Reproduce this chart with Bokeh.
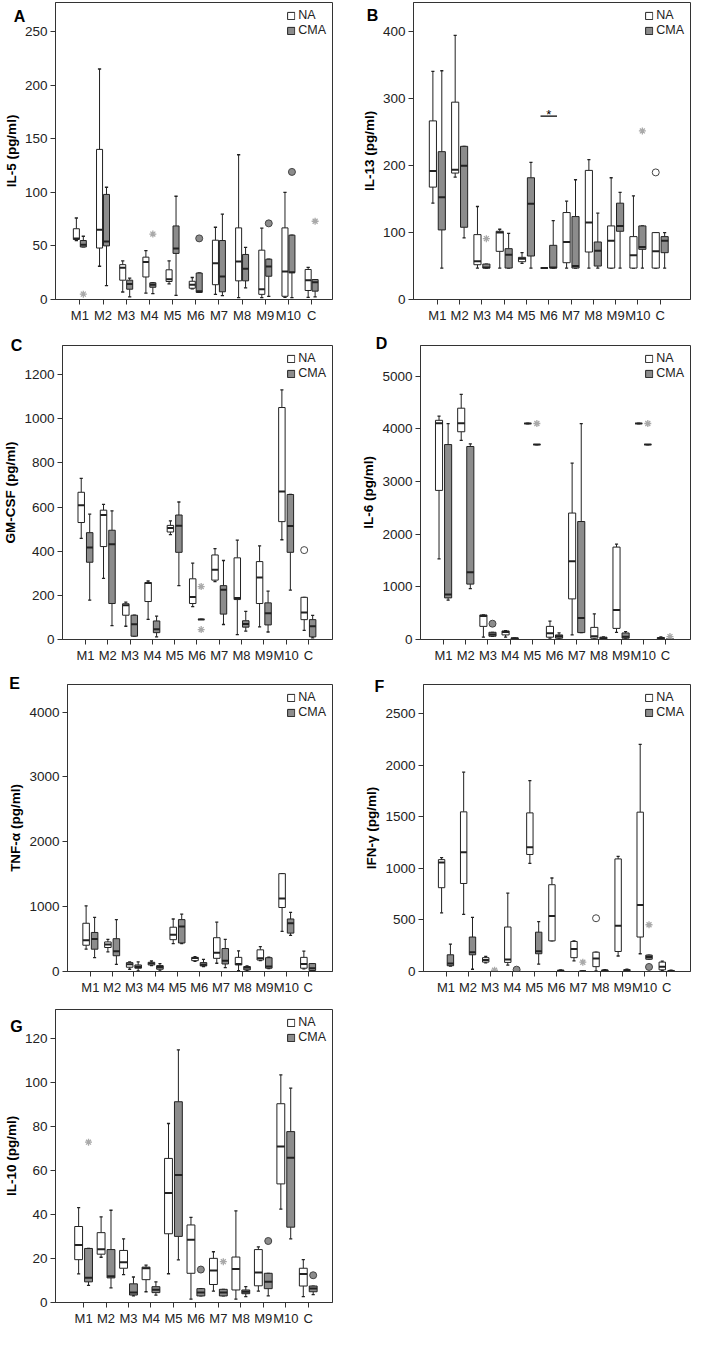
import numpy as np
from bokeh.plotting import figure
from bokeh.models import Range1d, FixedTicker, Label
from bokeh.layouts import column, row
from bokeh.embed import file_html
from bokeh.resources import INLINE

CATS = ["M1", "M2", "M3", "M4", "M5", "M6", "M7", "M8", "M9", "M10", "C"]

# each entry: (lower whisker, Q1, median, Q3, upper whisker), in CATS order
IL5_NA = [(55, 56, 57, 66, 76), (31, 48, 65, 140, 215), (7, 18, 29.5, 32.5, 36),
          (6, 21, 35, 39.5, 45.5), (14.5, 16.8, 19, 27.7, 36), (10, 10.5, 13.8, 17, 20.5),
          (4.8, 13.8, 33.7, 55.3, 67.4), (1.8, 17.4, 35.5, 66.8, 135), (1.8, 4.8, 9.6, 46, 66.5),
          (2, 3, 26, 66.8, 99.9), (2, 8.4, 18, 28, 30)]
IL5_CMA = [(49, 49, 51, 55, 59), (13, 50, 54, 98, 104.7), (2.4, 9.6, 14.4, 18, 20),
           (5.4, 11.4, 13.8, 15.6, 15.6), (3.9, 43, 47.5, 68.6, 96.3), (6.6, 6.6, 7.8, 24.7, 24.7),
           (3.6, 7.2, 21.4, 55, 79.7), (10.8, 17.4, 28.6, 42, 48.7), (3, 21.7, 30.7, 37.6, 37.6),
           (1.8, 25, 25.5, 60, 60), (2.4, 7.8, 16, 18.6, 18.6)]
IL5_OUT = [("M1", "CMA", 5, "star"), ("M4", "CMA", 61, "star"), ("M6", "CMA", 57, "circle"),
           ("M9", "CMA", 71, "circle"), ("M10", "CMA", 119, "circle"), ("C", "CMA", 73, "star")]

IL13_NA = [(144, 168, 192, 267, 341), (183, 189, 194, 295, 395), (47, 52, 57, 97, 139),
           (47, 72, 100, 102, 105), (54, 56.5, 61, 63, 70), (47, 47, 47, 47, 47),
           (47, 55, 86, 130, 147), (47, 71, 115, 193, 209), (47, 47, 88, 110, 182),
           (47, 47, 66, 94, 155), (47, 47, 72, 100, 100)]
IL13_CMA = [(47, 104, 153, 221, 342), (92, 108, 200, 229, 229), (47, 47, 48, 53, 53),
            (47, 47, 67, 76, 99), (47, 65, 143, 182, 205), (47, 47, 48, 81, 118),
            (47, 47, 50, 124, 179), (47, 50, 73, 86, 129), (47, 102, 110, 144, 160),
            (47, 75, 78.6, 110, 110), (47, 70, 88, 94, 100)]
IL13_OUT = [("M3", "CMA", 91, "star"), ("M10", "CMA", 252, "star"), ("C", "NA", 190, "circle")]
IL13_SIG = ("M6", 274)

GMCSF_NA = [(458, 530, 608, 667, 730), (277, 421, 564, 586, 612), (60, 110, 155, 162, 169),
            (91, 172, 256, 258, 265), (475, 487, 505, 517, 537), (149, 163, 193, 275, 346),
            (262, 269, 316, 383, 412), (22, 181, 188, 370, 450), (57, 163, 281, 353, 424),
            (452, 534, 670, 1051, 1131), (41, 90, 122, 191, 191)]
GMCSF_CMA = [(178, 350, 417, 484, 568), (63, 163, 431, 495, 583), (15, 15, 69, 110, 110),
             (12, 31, 46, 84, 106), (244, 395, 515, 564, 623), (91, 91, 91, 91, 91),
             (68, 115, 225, 244, 358), (38, 56, 70, 85, 127), (34, 66, 119, 166, 219),
             (224, 395, 514, 657, 657), (7, 12, 60, 90, 109)]
GMCSF_OUT = [("M6", "CMA", 240, "star"), ("M6", "CMA", 45, "star"), ("C", "NA", 405, "circle")]

IL6_NA = [(1530, 2830, 4105, 4160, 4241), (3781, 3943, 4105, 4390, 4652), (44, 249, 448, 466, 466),
          (44, 87, 143, 162, 168), (4100, 4100, 4100, 4100, 4100), (25, 44, 118, 249, 348),
          (87, 771, 1486, 2400, 3346), (12, 25, 62, 230, 485), (137, 211, 560, 1754, 1810),
          (4100, 4100, 4100, 4100, 4100), (6, 12, 25, 37, 50)]
IL6_CMA = [(746, 790, 852, 3700, 4098), (964, 1051, 1275, 3663, 3713), (62, 62, 93, 137, 137),
           (6, 6, 19, 31, 31), (3700, 3700, 3700, 3700, 3700), (12, 25, 62, 87, 124),
           (131, 131, 410, 2239, 4098), (12, 12, 25, 44, 50), (12, 25, 50, 124, 149),
           (3700, 3700, 3700, 3700, 3700), (5, 5, 5, 5, 5)]
IL6_OUT = [("M3", "CMA", 300, "circle"), ("M5", "CMA", 4100, "star"),
           ("M10", "CMA", 4100, "star"), ("C", "CMA", 55, "star")]

TNF_NA = [(344, 405, 481, 744, 1013), (304, 370, 415, 456, 496), (35, 66, 111, 137, 147),
          (91, 101, 122, 142, 162), (430, 491, 567, 683, 810), (157, 167, 208, 218, 228),
          (127, 203, 289, 521, 760), (15, 101, 116, 218, 319), (167, 177, 203, 334, 385),
          (618, 987, 1124, 1509, 1509), (40, 51, 116, 218, 314)]
TNF_CMA = [(213, 344, 501, 602, 835), (111, 243, 314, 506, 800), (10, 51, 71, 101, 147),
           (10, 35, 71, 91, 122), (430, 440, 694, 800, 886), (76, 86, 106, 137, 187),
           (61, 116, 167, 354, 496), (15, 25, 61, 76, 86), (46, 51, 76, 213, 223),
           (557, 592, 744, 810, 911), (10, 15, 51, 122, 122)]
TNF_OUT = []

IFN_NA = [(569, 812, 1056, 1084, 1103), (553, 853, 1156, 1547, 1931), (84, 91, 112, 134, 147),
          (62, 88, 116, 431, 759), (1047, 1134, 1203, 1537, 1850), (297, 297, 537, 841, 906),
          (103, 134, 219, 291, 297), (6, 47, 125, 187, 187), (150, 194, 444, 1091, 1116),
          (172, 334, 644, 1544, 2200), (9, 16, 47, 91, 100)]
IFN_CMA = [(53, 56, 78, 162, 266), (22, 162, 187, 334, 525), (1, 2, 3, 4, 5),
           (2, 4, 6, 8, 10), (72, 172, 197, 381, 484), (3, 5, 8, 12, 15),
           (1, 2, 3, 3, 4), (3, 5, 8, 15, 18), (5, 7, 10, 18, 22),
           (119, 119, 141, 159, 159), (2, 3, 6, 10, 12)]
IFN_OUT = [("M3", "CMA", 12, "star"), ("M4", "CMA", 18, "circle"), ("M7", "CMA", 90, "star"),
           ("M8", "NA", 516, "circle"), ("M10", "CMA", 44, "circle"), ("M10", "CMA", 453, "star")]

IL10_NA = [(13, 19.5, 26.2, 34.6, 43.2), (20.6, 22, 24.3, 31.8, 39), (12.7, 15.6, 18.3, 23.7, 29),
           (4.9, 10.4, 15.6, 16.1, 17), (13.1, 31.3, 49.9, 65.6, 81.5), (1.5, 13.3, 28.6, 35.3, 38.8),
           (5.2, 8.2, 14.6, 20.1, 23.1), (1.5, 5.7, 15.2, 20.7, 41.7), (5.2, 7.6, 13.7, 24.1, 25.3),
           (42.5, 54, 71, 90.5, 103.6), (2.7, 7.5, 13, 15.6, 19.5)]
IL10_CMA = [(7.8, 9.4, 11.3, 24.6, 24.6), (6.7, 11.2, 11.9, 24.1, 42), (3, 3.4, 4.5, 8.5, 11.6),
            (3.4, 4.5, 5.8, 7.2, 9.4), (19.4, 30.1, 58, 91.4, 115), (3, 3, 4.5, 6.3, 6.3),
            (3, 3, 4.5, 6, 6), (2.7, 4, 4.9, 5.7, 7.2), (3, 6.3, 9.4, 13.3, 13.3),
            (29, 34.3, 65.9, 77.8, 97.6), (3.6, 4.9, 6.4, 7.5, 7.5)]
IL10_OUT = [("M1", "CMA", 73, "star"), ("M6", "CMA", 15, "circle"), ("M7", "CMA", 18.6, "star"),
            ("M9", "CMA", 28, "circle"), ("C", "CMA", 12.4, "circle")]

FONT = "Liberation Sans"
INK = "#222222"
FRAME = "#333333"
GRAY = "#8c8c8c"
STAR = "#a9a9a9"


def make_panel(letter, ylabel, na, cma, outliers, y_end, y_ticks, x_range, bw, off,
               width, height, borders, letter_pos, letter_side, sig=None):
    L, R, T, B = borders
    p = figure(width=width, height=height, x_range=Range1d(*x_range),
               y_range=Range1d(0, y_end), output_backend="svg", toolbar_location=None,
               min_border_left=L, min_border_right=R, min_border_top=T, min_border_bottom=B)
    p.grid.visible = False
    p.outline_line_color = FRAME
    p.outline_line_alpha = 1
    p.outline_line_width = 1
    for ax in (p.xaxis[0], p.yaxis[0]):
        ax.axis_line_color = FRAME
        ax.major_tick_line_color = FRAME
        ax.major_tick_out = 5
        ax.major_tick_in = 0
        ax.minor_tick_line_color = None
        ax.major_label_text_font = FONT
        ax.major_label_text_color = INK
        ax.major_label_standoff = 3
    p.xaxis.ticker = FixedTicker(ticks=list(range(len(CATS))))
    p.xaxis.major_label_overrides = {i: c for i, c in enumerate(CATS)}
    p.xaxis.major_label_text_font_size = "13px"
    p.yaxis.ticker = FixedTicker(ticks=y_ticks)
    p.yaxis.major_label_text_font_size = "13.5px"
    p.yaxis.axis_label = ylabel
    p.yaxis.axis_label_text_font = FONT
    p.yaxis.axis_label_text_font_style = "bold"
    p.yaxis.axis_label_text_font_size = "13.5px"
    p.yaxis.axis_label_text_color = "black"
    p.yaxis.axis_label_standoff = 3

    idx = np.arange(len(CATS))
    cw = 0.07
    for data, dx, fill, name in ((na, -off, "white", "NA"), (cma, off, GRAY, "CMA")):
        lo, q1, med, q3, hi = (np.array(v, dtype=float) for v in zip(*data))
        xs = idx + dx
        p.segment(xs, q3, xs, hi, line_color=INK, line_width=1)
        p.segment(xs, lo, xs, q1, line_color=INK, line_width=1)
        p.segment(xs - cw, hi, xs + cw, hi, line_color=INK, line_width=1.3)
        p.segment(xs - cw, lo, xs + cw, lo, line_color=INK, line_width=1.3)
        p.vbar(x=xs, width=bw, bottom=q1, top=q3, fill_color=fill, line_color=INK,
               line_width=1, legend_label=name)
        p.segment(xs - bw / 2, med, xs + bw / 2, med, line_color=INK, line_width=2)

    for g, dx in (("NA", -off), ("CMA", off)):
        for kind in ("circle", "star"):
            pts = [(CATS.index(c) + dx, v) for c, gg, v, k in outliers if gg == g and k == kind]
            if not pts:
                continue
            ox, oy = zip(*pts)
            if kind == "circle":
                p.scatter(list(ox), list(oy), marker="circle", size=7,
                          fill_color=("white" if g == "NA" else GRAY),
                          line_color="#444444", line_width=1)
            else:
                p.scatter(list(ox), list(oy), marker="asterisk", size=7,
                          line_color=STAR, line_width=1.3)

    if sig is not None:
        c, yv = sig
        i = CATS.index(c)
        p.segment([i - 0.37], [yv], [i + 0.37], [yv], line_color="black", line_width=1.3)
        p.text(x=[i], y=[yv + y_end * 0.007], text=["*"], text_align="center",
               text_baseline="middle", text_font_size="13px", text_color="black")

    lg = p.legend[0]
    lg.location = "top_right"
    lg.border_line_color = None
    lg.background_fill_alpha = 0
    lg.label_text_font = FONT
    lg.label_text_font_size = "12.5px"
    lg.label_text_color = INK
    lg.glyph_width = 9
    lg.glyph_height = 9
    lg.label_height = 10
    lg.label_standoff = 3
    lg.spacing = 1
    lg.padding = 2
    lg.margin = 6

    ldx, ldy = letter_pos
    p.add_layout(Label(x=x_range[0], y=y_end, x_offset=ldx, y_offset=-ldy, text=letter,
                       text_font=FONT, text_font_style="bold", text_font_size="16px",
                       text_align="center", text_baseline="middle", text_color="black"),
                 letter_side)
    return p


pA = make_panel("A", "IL-5 (pg/ml)", IL5_NA, IL5_CMA, IL5_OUT, 277, [0, 50, 100, 150, 200, 250],
                (-1.05, 10.9), 0.26, 0.15, 346, 332, (50, 14, 2, 27), (-36, 14), "right")
pB = make_panel("B", "IL-13 (pg/ml)", IL13_NA, IL13_CMA, IL13_OUT, 444, [0, 100, 200, 300, 400],
                (-1.07, 11.36), 0.32, 0.2, 346, 332, (66, 2, 2, 33), (-41, 13), "left",
                sig=IL13_SIG)
pC = make_panel("C", "GM-CSF (pg/ml)", GMCSF_NA, GMCSF_CMA, GMCSF_OUT, 1332,
                [0, 200, 400, 600, 800, 1000, 1200],
                (-1.03, 11.08), 0.29, 0.19, 346, 338, (60, 14, 13, 27), (-46, 0), "right")
pD = make_panel("D", "IL-6 (pg/ml)", IL6_NA, IL6_CMA, IL6_OUT, 5580,
                [0, 1000, 2000, 3000, 4000, 5000],
                (-1.04, 11.13), 0.32, 0.205, 346, 338, (74, 2, 12, 31), (-39, -2), "left")
pE = make_panel("E", "TNF-α (pg/ml)", TNF_NA, TNF_CMA, TNF_OUT, 4426, [0, 1000, 2000, 3000, 4000],
                (-1.05, 11.12), 0.3, 0.195, 346, 330, (67, 14, 14, 29), (-53, -1), "right")
pF = make_panel("F", "IFN-γ (pg/ml)", IFN_NA, IFN_CMA, IFN_OUT, 2781,
                [0, 500, 1000, 1500, 2000, 2500],
                (-1.02, 11.08), 0.29, 0.2, 346, 330, (77, 2, 10, 27), (-44, 2), "left")
pG = make_panel("G", "IL-10 (pg/ml)", IL10_NA, IL10_CMA, IL10_OUT, 133.4,
                [0, 20, 40, 60, 80, 100, 120],
                (-1.25, 11.08), 0.35, 0.22, 346, 328, (53, 14, 9, 25), (-39, 17), "right")

layout = column(row(pA, pB), row(pC, pD), row(pE, pF), row(pG))
open("out.html", "w").write(file_html(layout, INLINE))
